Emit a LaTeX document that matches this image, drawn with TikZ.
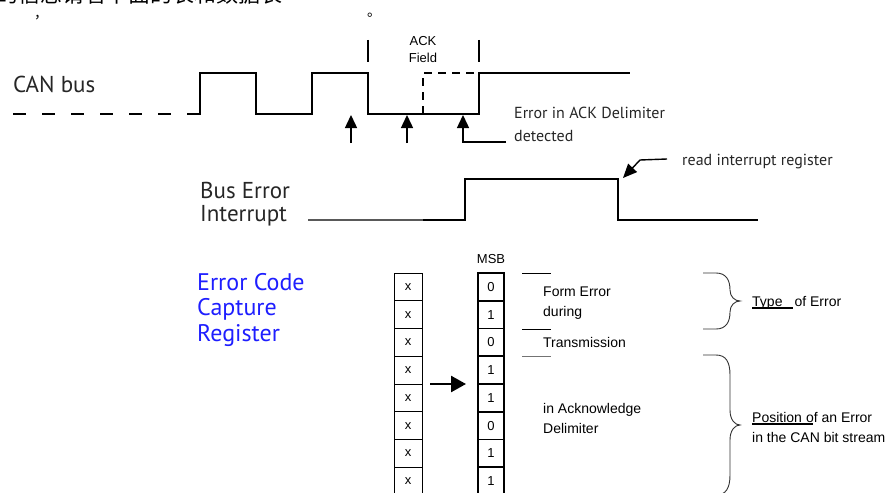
\documentclass[tikz,border=0pt]{standalone}
\usepackage{fontspec}
\setmainfont{Liberation Sans}
\newfontfamily\myr{PT Sans}
\newfontfamily\cjk{Noto Sans CJK SC}
\usetikzlibrary{arrows.meta}
\definecolor{regblue}{RGB}{30,30,255}
\newcommand{\thickul}[2]{\rlap{\rule[-2.6pt]{#2}{1.3pt}}#1}
\begin{document}
\begin{tikzpicture}[x=1pt,y=-1pt,
  wave/.style={line width=1.6pt},
  upar/.style={line width=1.4pt,-{Triangle[width=12pt,length=13pt]}},
  cellx/.style={draw,line width=0.8pt,minimum width=28pt,minimum height=27.75pt,inner sep=0pt,font=\fontsize{13}{13}\selectfont},
  cellb/.style={draw,line width=1.6pt,minimum width=26pt,minimum height=27.75pt,inner sep=0pt,font=\fontsize{13}{13}\selectfont},
  humbig/.style={anchor=base west,inner sep=0pt,align=left,font=\myr\fontsize{23}{25.5}\selectfont,text=black!85},
  hummid/.style={anchor=base west,inner sep=0pt,align=left,font=\myr\fontsize{16}{23}\selectfont,text=black!85},
  ari/.style={anchor=base west,inner sep=0pt,align=left,font=\fontsize{14}{20}\selectfont},
  tick/.style={line width=1.5pt},
  brace/.style={line width=0.9pt,black!80},
  marker/.style={line width=1pt}
]
\useasboundingbox (0,0) rectangle (893,492);

% clipped Chinese line at the top
\node[anchor=base west,inner sep=0pt,font=\cjk\fontsize{22}{22}\selectfont] (cn) at (-4,2.5) {的信息请看下面的表和数据表};
\node[anchor=base west,inner sep=0pt,font=\cjk\fontsize{14}{14}\selectfont] (comma) at (34,19) {，};
\node[anchor=base west,inner sep=0pt,font=\cjk\fontsize{14}{14}\selectfont] (stop) at (367,17) {。};

% CAN bus
\node[humbig] (can) at (13,93) {CAN bus};
\draw[wave,dash pattern=on 13pt off 16pt] (13,114) -- (187,114);
\draw[wave] (187,114) -- (200,114) -- (200,73) -- (256,73) -- (256,114) -- (312,114) -- (312,73)
  -- (368,73) -- (368,114) -- (479,114) -- (479,73) -- (630,73);
\draw[wave,dash pattern=on 8pt off 6pt] (423,114) -- (423,73) -- (479,73);
\draw[tick] (368,40) -- (368,62);
\draw[tick] (479,40) -- (479,62);
\node[anchor=center,inner sep=0pt,align=center,font=\fontsize{13}{17}\selectfont] (ack) at (423,50) {ACK\\Field};

% sample arrows
\coordinate (a1t) at (351,115); \coordinate (a1b) at (351,143);
\coordinate (a2t) at (407,115); \coordinate (a2b) at (407,143);
\coordinate (a3t) at (463,115); \coordinate (a3c) at (463,142); \coordinate (a3e) at (506,142);
\draw[upar] (a1b) -- (a1t);
\draw[upar] (a2b) -- (a2t);
\draw[upar] (a3e) -- (a3c) -- (a3t);
\node[hummid] (err) at (514,141) {Error in ACK Delimiter\\detected};

% Bus error interrupt
\node[humbig,font=\myr\fontsize{23}{23}\selectfont] (bei) at (200,221) {Bus Error\\Interrupt};
\draw[line width=2pt,black!65] (308,220) -- (423,220);
\draw[wave] (423,220) -- (465,220) -- (465,179) -- (618,179) -- (618,220) -- (758,220);
\coordinate (rd0) at (667,159); \coordinate (rd1) at (640,160); \coordinate (rdt) at (623,178);
\draw[line width=1.4pt,-{Triangle[width=12pt,length=14pt]}] (rd0) -- (rd1) -- (rdt);
\node[hummid] (rdtext) at (682,165) {read interrupt register};

% Error code capture register
\node[humbig,font=\myr\fontsize{24}{25.5}\selectfont,text=regblue] (ecc) at (197,341) {Error Code\\Capture\\Register};
\node[anchor=center,inner sep=0pt,font=\fontsize{13}{13}\selectfont] (msb) at (491,259) {MSB};
\foreach \i/\b in {1/0,2/1,3/0,4/1,5/1,6/0,7/1,8/1}{
  \node[cellx] (x\i) at (408,{273+13.875+(\i-1)*27.75}) {x};
  \node[cellb] (b\i) at (491,{273+13.875+(\i-1)*27.75}) {\b};
}
\coordinate (ra0) at (430,384); \coordinate (ra1) at (466,384);
\draw[line width=2.5pt,-{Triangle[width=16pt,length=15pt]}] (ra0) -- (ra1);

% field markers and descriptions
\draw[marker] (522,273) -- (551,273);
\draw[marker] (522,329) -- (551,329);
\draw[marker,black!55] (522,356) -- (551,356);
\node[ari] (fe) at (543,316) {Form Error\\during};
\node[ari] (tr) at (543,347) {Transmission};
\node[ari] (ia) at (543,433) {in Acknowledge\\Delimiter};

% braces
\draw[brace] (703,273) -- (716,273) .. controls (726,273) and (730,280) .. (730,290)
  .. controls (730,297) and (735,301) .. (740,301)
  .. controls (735,301) and (730,305) .. (730,312)
  .. controls (730,322) and (726,329) .. (716,329) -- (703,329);
\draw[brace] (703,355) -- (716,355) .. controls (726,355) and (730,362) .. (730,375) -- (730,410)
  .. controls (730,420) and (735,425) .. (740,425)
  .. controls (735,425) and (730,430) .. (730,440) -- (730,475)
  .. controls (730,488) and (726,495) .. (716,495) -- (703,495);
\node[ari] (toe) at (752,306) {\thickul{Type}{41pt}\hspace{12pt}of Error};
\node[ari] (poe) at (752,442) {\thickul{Position}{61pt}\hspace{4pt}of an Error\\in the CAN bit stream};
\end{tikzpicture}
\end{document}
